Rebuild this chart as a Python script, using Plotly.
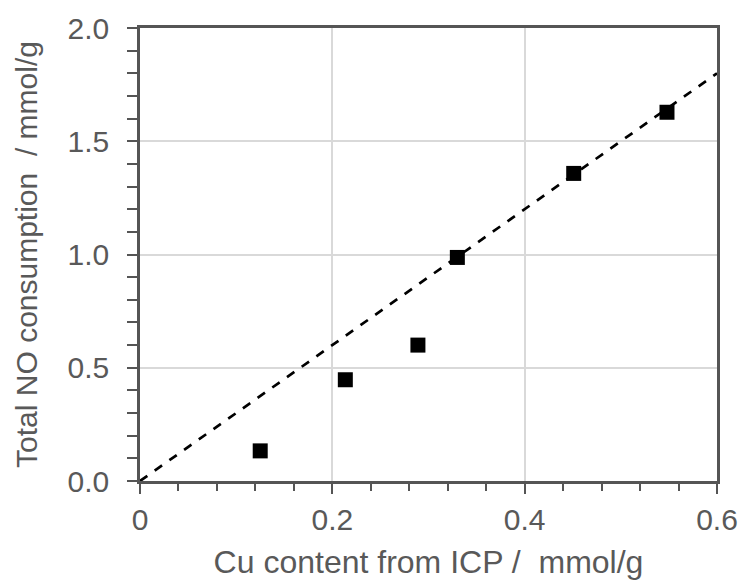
import plotly.graph_objects as go

# Measured samples
cu_content = [0.125, 0.2135, 0.289, 0.330, 0.451, 0.548]          # mmol/g (ICP)
no_consumption = [0.133, 0.447, 0.600, 0.987, 1.358, 1.628]       # mmol/g

# Reference line: NO/Cu = 3
ref_x = [0.0, 0.6]
ref_slope = 3.0
ref_y = [ref_slope * v for v in ref_x]

x_ticks = [0, 0.2, 0.4, 0.6]
y_ticks = [0.0, 0.5, 1.0, 1.5, 2.0]

axis_color = "#555555"
text_color = "#595959"
grid_color = "#d9d9d9"
font_family = "Liberation Sans, Arial, sans-serif"

fig = go.Figure()

fig.add_trace(go.Scatter(
    x=ref_x, y=ref_y, mode="lines",
    line=dict(color="black", width=2.7, dash="dash"),
    showlegend=False, hoverinfo="skip",
))

fig.add_trace(go.Scatter(
    x=cu_content, y=no_consumption, mode="markers",
    marker=dict(symbol="square", size=15, color="black"),
    showlegend=False,
))

common = dict(
    showline=True, linecolor=axis_color, linewidth=2.5, mirror=True,
    ticks="outside", ticklen=10, tickwidth=2, tickcolor=axis_color,
    showgrid=True, gridcolor=grid_color, gridwidth=1.5,
    zeroline=False, automargin=False,
    tickfont=dict(size=30, color=text_color, family=font_family),
)

fig.update_xaxes(
    range=[0, 0.6], tickvals=x_ticks, ticktext=["0", "0.2", "0.4", "0.6"],
    minor=dict(dtick=0.04, tick0=0, ticks="outside", ticklen=7,
               tickwidth=2, tickcolor=axis_color, showgrid=False),
    title=dict(text="Cu content from ICP /\u00a0\u00a0mmol/g",
               font=dict(size=32, color=text_color, family=font_family),
               standoff=16),
    **common,
)
fig.update_yaxes(
    range=[0, 2.0], tickvals=y_ticks, tickformat=".1f",
    ticklabelstandoff=12,
    minor=dict(dtick=0.1, tick0=0, ticks="outside", ticklen=10,
               tickwidth=2, tickcolor=axis_color, showgrid=False),
    title=dict(text="Total NO consumption\u00a0\u00a0/ mmol/g",
               font=dict(size=30, color=text_color, family=font_family),
               standoff=22),
    **common,
)

fig.update_layout(
    width=747, height=582,
    margin=dict(l=140, r=30, t=28, b=101),
    plot_bgcolor="white", paper_bgcolor="white",
    font=dict(family=font_family, color=text_color),
)

fig.write_html("out.html")
